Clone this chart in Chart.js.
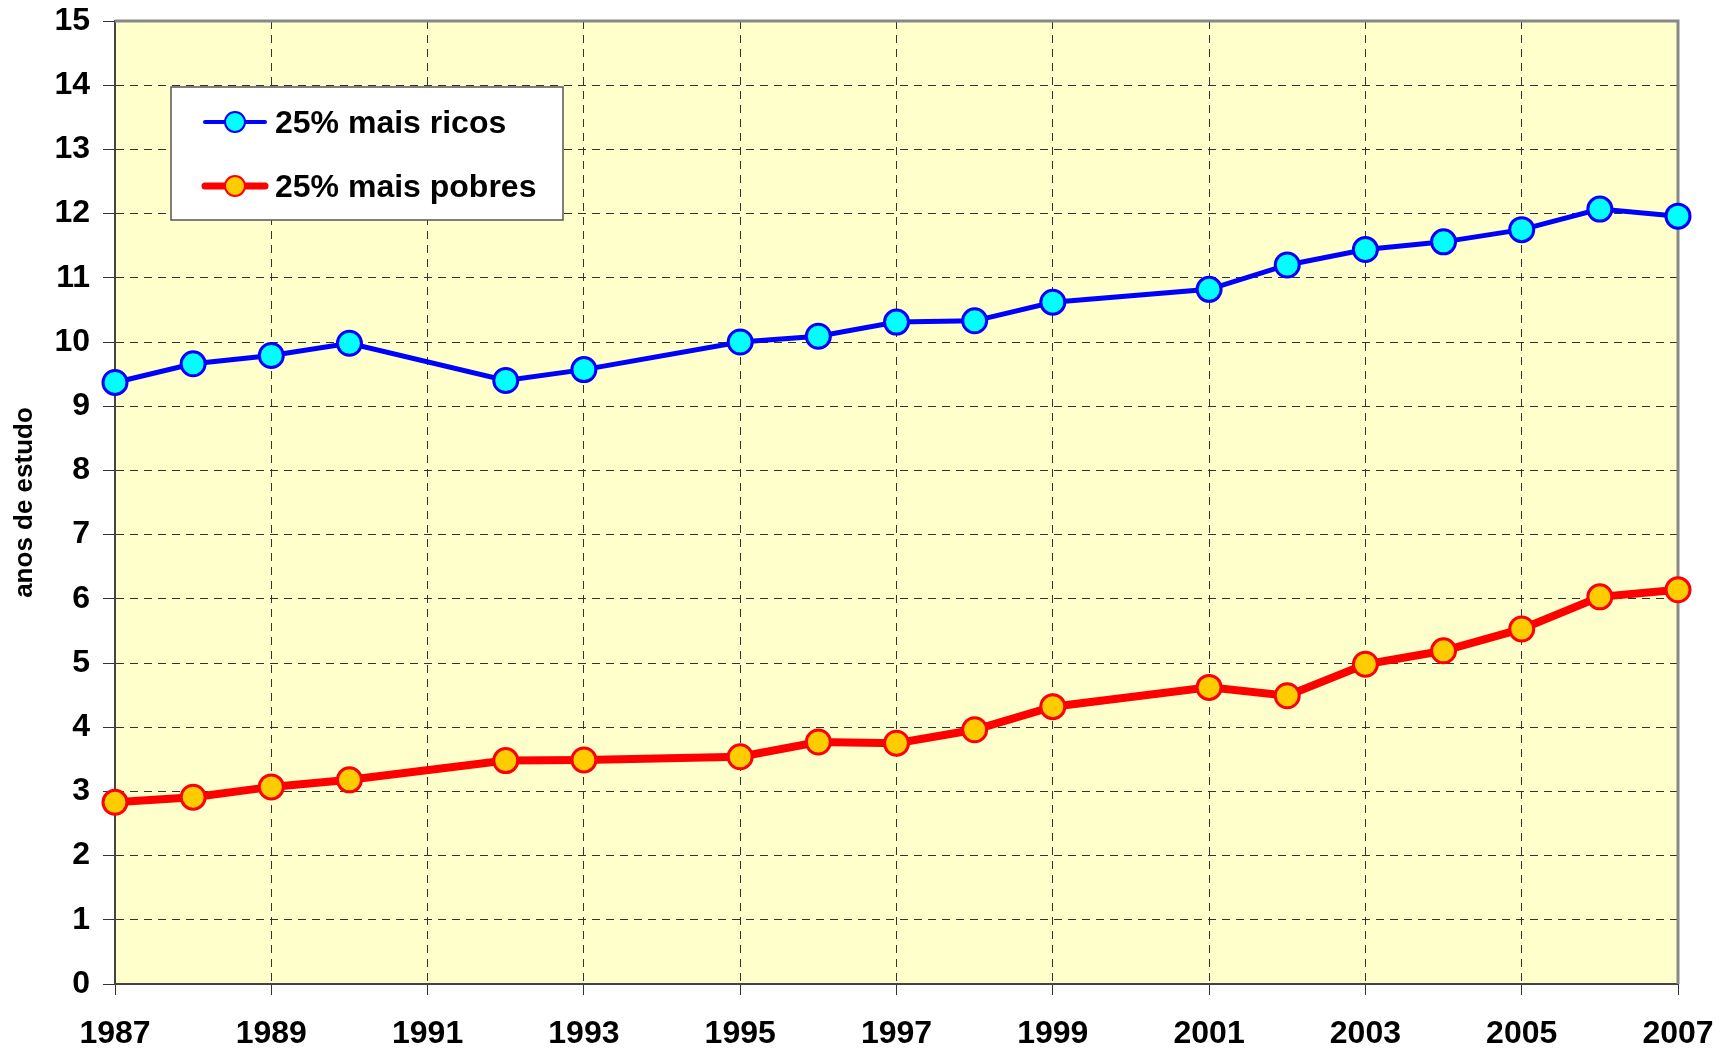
<!DOCTYPE html>
<html>
<head>
<meta charset="utf-8">
<script src="https://cdn.jsdelivr.net/npm/chart.js@4"></script>
<style>
  body { margin: 0; background: #fff; }
  canvas { display: block; }
</style>
</head>
<body>
<canvas id="grafico" width="1726" height="1053"></canvas>
<script>
// anos com dados (faltam 1991, 1994 e 2000)
var anos = [1987, 1988, 1989, 1990, 1992, 1993, 1995, 1996, 1997, 1998, 1999, 2001, 2002, 2003, 2004, 2005, 2006, 2007];
var ricos = [9.37, 9.66, 9.79, 9.98, 9.40, 9.57, 10.00, 10.09, 10.31, 10.33, 10.62, 10.82, 11.20, 11.44, 11.56, 11.75, 12.07, 11.96];
var pobres = [2.83, 2.91, 3.07, 3.18, 3.48, 3.49, 3.54, 3.77, 3.75, 3.96, 4.32, 4.62, 4.49, 4.98, 5.19, 5.53, 6.03, 6.14];
var nomes = ['25% mais ricos', '25% mais pobres'];

var fonte = '"Liberation Sans", Arial, sans-serif';

function pontos(valores) {
    return anos.map(function (ano, i) {
        return { x: ano, y: valores[i] };
    });
}

// fundo amarelo e borda da area do grafico
var fundo = {
    id: 'fundo',
    beforeDraw: function (chart) {
        var a = chart.chartArea, ctx = chart.ctx;
        ctx.save();
        ctx.fillStyle = '#FFFFCC';
        ctx.fillRect(a.left, a.top, a.right - a.left, a.bottom - a.top);
        ctx.restore();
    },
    beforeDatasetsDraw: function (chart) {
        var a = chart.chartArea, ctx = chart.ctx;
        ctx.save();
        ctx.strokeStyle = '#888888';
        ctx.lineWidth = 3;
        ctx.beginPath();
        ctx.moveTo(a.left, a.top);
        ctx.lineTo(a.right, a.top);
        ctx.lineTo(a.right, a.bottom);
        ctx.stroke();
        ctx.restore();
    }
};

// legenda dentro do grafico
var legenda = {
    id: 'legenda',
    afterDatasetsDraw: function (chart) {
        var ctx = chart.ctx;
        ctx.save();
        ctx.fillStyle = '#ffffff';
        ctx.fillRect(171, 87, 392, 133);
        ctx.strokeStyle = '#555555';
        ctx.lineWidth = 1.5;
        ctx.strokeRect(171, 87, 392, 133);
        chart.data.datasets.forEach(function (ds, i) {
            var y = i === 0 ? 122 : 186;
            ctx.strokeStyle = ds.borderColor;
            ctx.lineWidth = ds.borderWidth - 1;
            ctx.lineCap = 'round';
            ctx.beginPath();
            ctx.moveTo(205, y);
            ctx.lineTo(265, y);
            ctx.stroke();
            ctx.beginPath();
            ctx.arc(235, y, 10, 0, Math.PI * 2);
            ctx.fillStyle = ds.pointBackgroundColor;
            ctx.fill();
            ctx.lineWidth = 2;
            ctx.strokeStyle = ds.pointBorderColor;
            ctx.stroke();
            ctx.fillStyle = '#000000';
            ctx.font = 'bold 32px ' + fonte;
            ctx.textBaseline = 'alphabetic';
            ctx.fillText(ds.label, 275, y + 11);
        });
        ctx.restore();
    }
};

var ctx = document.getElementById('grafico').getContext('2d');
new Chart(ctx, {
    type: 'line',
    data: {
        datasets: [{
            label: nomes[0],
            data: pontos(ricos),
            borderColor: '#0000FF',
            borderWidth: 5,
            pointBackgroundColor: '#00FFFF',
            pointBorderColor: '#0000FF',
            pointBorderWidth: 3,
            pointRadius: 12,
            clip: false
        }, {
            label: nomes[1],
            data: pontos(pobres),
            borderColor: '#FF0000',
            borderWidth: 8,
            pointBackgroundColor: '#FFCC00',
            pointBorderColor: '#FF0000',
            pointBorderWidth: 3,
            pointRadius: 12,
            clip: false
        }]
    },
    options: {
        responsive: false,
        animation: false,
        layout: { padding: { top: 21, right: 48, left: 0, bottom: 0 } },
        plugins: {
            legend: { display: false },
            tooltip: { enabled: false }
        },
        scales: {
            x: {
                type: 'linear',
                min: 1987,
                max: 2007,
                afterFit: function (s) {
                    s.height = 69;
                    s.paddingLeft = 0;
                    s.paddingRight = 0;
                },
                ticks: {
                    stepSize: 2,
                    padding: 20,
                    color: '#000',
                    font: { family: fonte, size: 32, weight: 'bold' },
                    maxRotation: 0,
                    autoSkip: false,
                    callback: function (v) { return String(v); }
                },
                grid: {
                    color: '#333333',
                    lineWidth: 1,
                    tickLength: 11,
                    tickColor: '#333333',
                    tickBorderDash: []
                },
                border: { color: '#444444', width: 2, dash: [8, 6] }
            },
            y: {
                min: 0,
                max: 15,
                afterFit: function (s) {
                    s.width = 115;
                    s.paddingTop = 0;
                    s.paddingBottom = 0;
                },
                ticks: {
                    stepSize: 1,
                    padding: 13,
                    color: '#000',
                    font: { family: fonte, size: 32, weight: 'bold' }
                },
                grid: {
                    color: '#333333',
                    lineWidth: 1,
                    tickLength: 12,
                    tickColor: '#333333',
                    tickBorderDash: []
                },
                border: { color: '#444444', width: 2, dash: [8, 6] },
                title: {
                    display: true,
                    text: 'anos de estudo',
                    color: '#000',
                    font: { family: fonte, size: 26, weight: 'bold' },
                    padding: { top: 9, bottom: 0 }
                }
            }
        }
    },
    plugins: [fundo, legenda]
});
</script>
</body>
</html>
